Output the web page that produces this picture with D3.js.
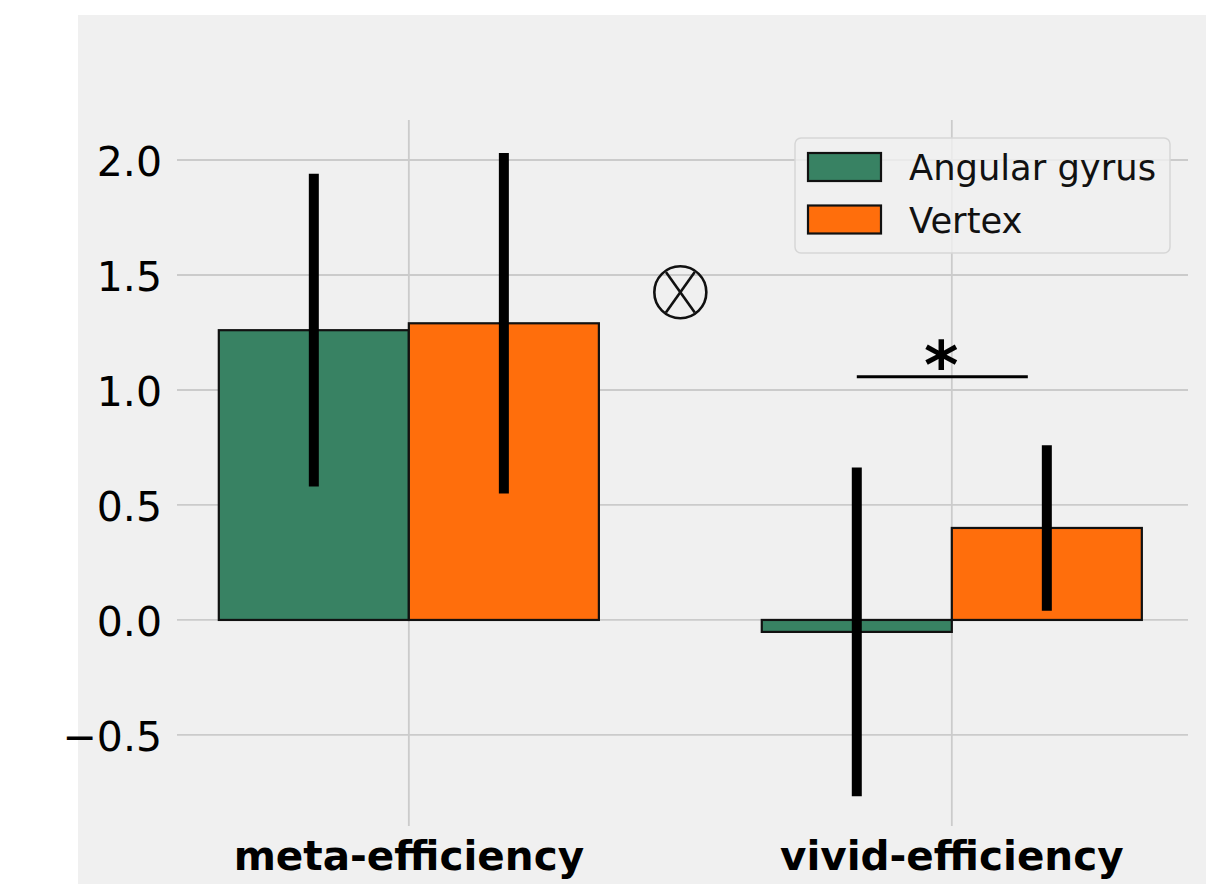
<!DOCTYPE html>
<html>
<head>
<meta charset="utf-8">
<script src="https://cdn.jsdelivr.net/npm/d3@7"></script>
<style>
  body { margin: 0; background: #ffffff; }
  svg { display: block; font-family: "DejaVu Sans", sans-serif; }
</style>
</head>
<body>
<svg id="chart" width="1206" height="884"></svg>
<script>
// values
const categories = ["meta-efficiency", "vivid-efficiency"];
const seriesNames = ["Angular gyrus", "Vertex"];
const angularMeans = [1.26, -0.052];
const angularErrs = [0.68, 0.715];
const vertexMeans = [1.29, 0.40];
const vertexErrs = [0.74, 0.36];
const yTicks = [-0.5, 0.0, 0.5, 1.0, 1.5, 2.0];
const colors = ["#388263", "#ff6e0c"];
const barWidth = 0.35;

// significance marks
const sigLine = { x1: 0.825, x2: 1.14, y: 1.057, label: "*" };
const interaction = { x: 0.5, y: 1.425 };

const svg = d3.select("#chart");

// figure background
svg.append("rect")
    .attr("x", 78).attr("y", 15)
    .attr("width", 1128).attr("height", 869)
    .attr("fill", "#f0f0f0");

const x = d3.scaleLinear().domain([-0.427, 1.435]).range([177, 1188]);
const y = d3.scaleLinear().domain([-0.896, 2.174]).range([826, 120]);

// grid
const grid = svg.append("g");
grid.selectAll("line.h")
    .data(yTicks)
    .enter()
    .append("line")
    .attr("x1", x.range()[0]).attr("x2", x.range()[1])
    .attr("y1", d => y(d)).attr("y2", d => y(d))
    .attr("stroke", "#cbcbcb").attr("stroke-width", 1.8);
grid.selectAll("line.v")
    .data(categories)
    .enter()
    .append("line")
    .attr("x1", (d, i) => x(i)).attr("x2", (d, i) => x(i))
    .attr("y1", y.range()[0]).attr("y2", y.range()[1])
    .attr("stroke", "#cbcbcb").attr("stroke-width", 1.8);

// y tick labels
svg.append("g").selectAll("text")
    .data(yTicks)
    .enter()
    .append("text")
    .attr("x", 162)
    .attr("y", d => y(d) + 16)
    .attr("text-anchor", "end")
    .attr("font-size", 41)
    .attr("fill", "#000")
    .text(d => d3.format(".1f")(d).replace("-", "\u2212"));

// x tick labels
svg.append("g").selectAll("text")
    .data(categories)
    .enter()
    .append("text")
    .attr("x", (d, i) => x(i))
    .attr("y", 870)
    .attr("text-anchor", "middle")
    .attr("font-size", 40.5)
    .attr("font-weight", "bold")
    .attr("fill", "#000")
    .text(d => d);

// bars
let bars = [];
categories.forEach((c, i) => {
    bars.push({ cat: i, s: 0, mean: angularMeans[i], err: angularErrs[i], left: i - barWidth });
    bars.push({ cat: i, s: 1, mean: vertexMeans[i], err: vertexErrs[i], left: i });
});

svg.append("g").selectAll("rect")
    .data(bars)
    .enter()
    .append("rect")
    .attr("x", d => x(d.left))
    .attr("width", d => x(d.left + barWidth) - x(d.left))
    .attr("y", d => y(Math.max(0, d.mean)))
    .attr("height", d => Math.abs(y(d.mean) - y(0)))
    .attr("fill", d => colors[d.s])
    .attr("stroke", "#111")
    .attr("stroke-width", 2.2);

// error bars
svg.append("g").selectAll("line")
    .data(bars)
    .enter()
    .append("line")
    .attr("x1", d => x(d.left + barWidth / 2))
    .attr("x2", d => x(d.left + barWidth / 2))
    .attr("y1", d => y(d.mean + d.err))
    .attr("y2", d => y(d.mean - d.err))
    .attr("stroke", "#000")
    .attr("stroke-width", 10);

// significance line + star
svg.append("line")
    .attr("x1", x(sigLine.x1)).attr("x2", x(sigLine.x2))
    .attr("y1", y(sigLine.y)).attr("y2", y(sigLine.y))
    .attr("stroke", "#000").attr("stroke-width", 3);
svg.append("text")
    .attr("x", x((sigLine.x1 + sigLine.x2) / 2) - 1)
    .attr("y", y(sigLine.y) + 11)
    .attr("text-anchor", "middle")
    .attr("font-size", 66)
    .attr("font-weight", "bold")
    .text(sigLine.label);

// interaction marker (circled cross)
const ox = x(interaction.x), oy = y(interaction.y), r = 26;
const mark = svg.append("g").attr("stroke", "#111").attr("stroke-width", 2.6).attr("fill", "none");
mark.append("circle").attr("cx", ox).attr("cy", oy).attr("r", r);
const k = r * Math.SQRT1_2 * 0.98;
mark.append("line").attr("x1", ox - k * 0.8).attr("y1", oy - k * 1.12).attr("x2", ox + k * 0.8).attr("y2", oy + k * 1.12);
mark.append("line").attr("x1", ox + k * 0.8).attr("y1", oy - k * 1.12).attr("x2", ox - k * 0.8).attr("y2", oy + k * 1.12);

// legend
const legend = svg.append("g").attr("transform", "translate(795,138)");
legend.append("rect")
    .attr("width", 375).attr("height", 115)
    .attr("rx", 6)
    .attr("fill", "#f0f0f0").attr("fill-opacity", 0.8)
    .attr("stroke", "#d6d6d6").attr("stroke-width", 1.5);
seriesNames.forEach((name, i) => {
    legend.append("rect")
        .attr("x", 13).attr("y", 15 + i * 52.5)
        .attr("width", 73).attr("height", 28)
        .attr("fill", colors[i])
        .attr("stroke", "#111").attr("stroke-width", 2.2);
    legend.append("text")
        .attr("x", 114).attr("y", 42 + i * 52.5)
        .attr("font-size", 35.3)
        .attr("fill", "#111")
        .text(name);
});
</script>
</body>
</html>
